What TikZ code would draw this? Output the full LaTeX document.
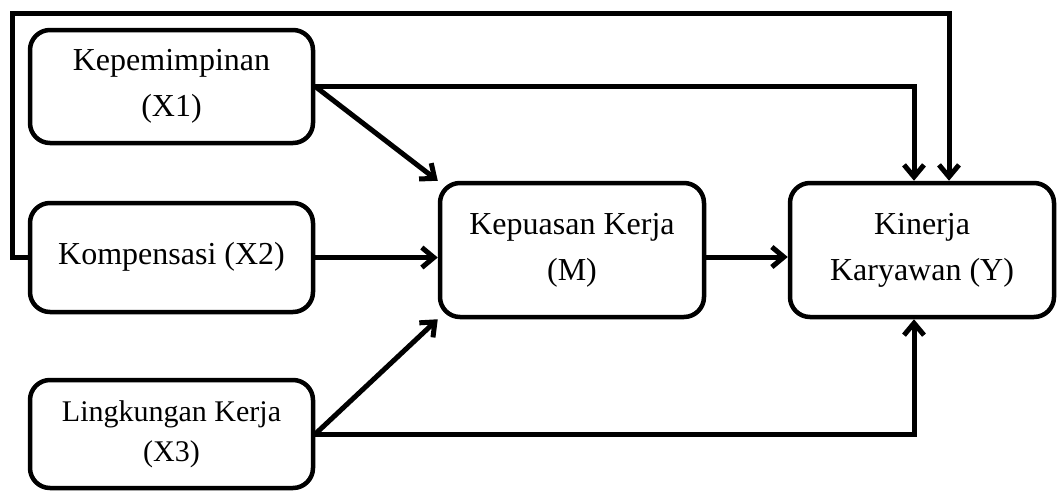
\documentclass[tikz,border=0pt]{standalone}
\usepackage{fontspec}
\setmainfont{Liberation Serif}
\usetikzlibrary{arrows.meta}
\usetikzlibrary{positioning}

\begin{document}
\begin{tikzpicture}[x=1pt, y=-1pt,
  varbox/.style={draw, rounded corners=20pt, line width=4.5pt, align=center, inner sep=0pt, font=\fontsize{32}{46}\selectfont},
  arr/.style={line width=5pt, -{Straight Barb[length=12pt,width=20pt]}}]
\useasboundingbox (0,0) rectangle (1057,491);
\node[varbox, minimum width=283pt, minimum height=113pt] (X1) at (171.5,86.5) {Kepemimpinan\\(X1)};
\node[varbox, minimum width=283pt, minimum height=109pt] (X2) at (171.5,257.5) {\raisebox{9pt}{Kompensasi (X2)}};
\node[varbox, minimum width=283pt, minimum height=108pt, font=\fontsize{30}{40}\selectfont] (X3) at (171.5,434) {Lingkungan Kerja\\(X3)};
\node[varbox, minimum width=264pt, minimum height=134pt] (M) at (572,250) {Kepuasan Kerja\\(M)};
\node[varbox, minimum width=264pt, minimum height=134pt] (Y) at (922,250) {Kinerja\\Karyawan (Y)};
\coordinate (loop) at (12,13);

\draw[arr] (X1.east) -- (M.north west);
\draw[arr] (X2.east) -- (X2.east -| M.west);
\draw[arr] (X3.east) -- (M.south west);
\draw[arr] ([yshift=-7pt]M.east) -- ([yshift=-7pt]Y.west);
\draw[arr] (X1.east) -| ([xshift=-8pt]Y.north);
\draw[arr] (X3.east) -| ([xshift=-8pt]Y.south);
\draw[arr] (X2.west) -| (loop) -| ([xshift=27pt]Y.north);
\end{tikzpicture}
\end{document}
